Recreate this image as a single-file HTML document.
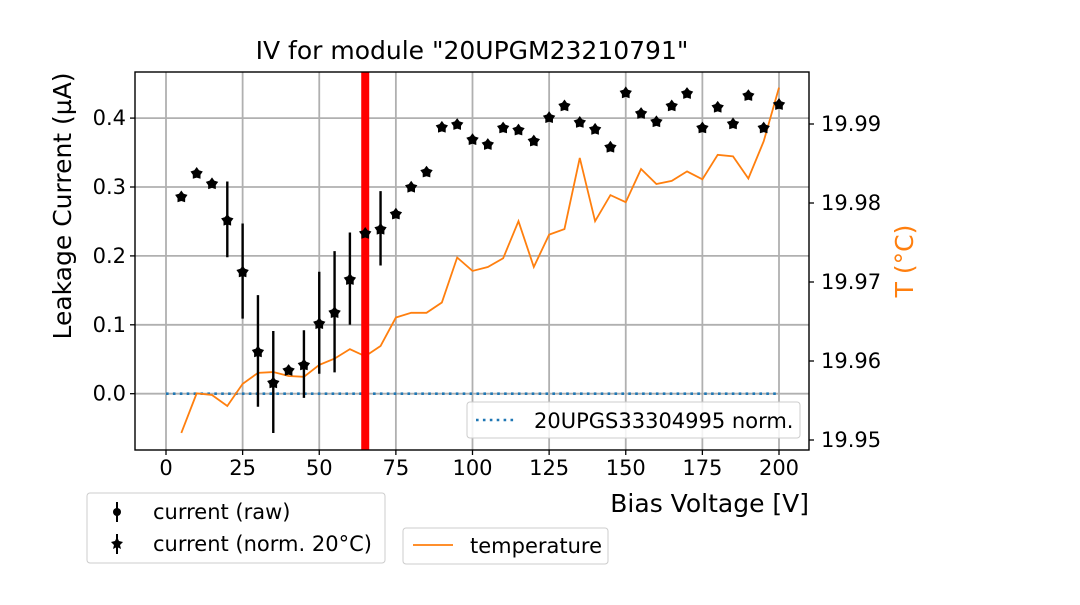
<!DOCTYPE html>
<html><head><meta charset="utf-8"><style>
body{margin:0;background:#fff}
text{font-family:"DejaVu Sans","Liberation Sans",sans-serif;fill:#000}
</style></head><body>
<svg id="chart" width="1080" height="600" viewBox="0 0 1080 600" xmlns="http://www.w3.org/2000/svg">
<g id="grid"></g>
<g id="marks"></g>
<g id="axes"></g>
</svg>
<script>
const voltages=[5,10,15,20,25,30,35,40,45,50,55,60,65,70,75,80,85,90,95,100,105,110,115,120,125,130,135,140,145,150,155,160,165,170,175,180,185,190,195,200];
const currentNorm=[0.287,0.321,0.306,0.253,0.178,0.062,0.017,0.035,0.043,0.103,0.119,0.167,0.234,0.240,0.262,0.301,0.323,0.388,0.392,0.370,0.363,0.387,0.384,0.368,0.402,0.419,0.395,0.385,0.359,0.438,0.408,0.396,0.419,0.437,0.387,0.417,0.393,0.434,0.387,0.421];
const currentErr=[0,0,0,0.055,0.069,0.081,0.074,0,0.049,0.074,0.088,0.067,0,0.054,0,0,0,0,0,0,0,0,0,0,0,0,0,0,0,0,0,0,0,0,0,0,0,0,0,0];
const temperature=[19.9509,19.9559,19.9557,19.9543,19.9571,19.9585,19.9586,19.9581,19.9580,19.9595,19.9603,19.9615,19.9606,19.9619,19.9655,19.9661,19.9661,19.9674,19.9731,19.9714,19.9719,19.9730,19.9777,19.9719,19.9760,19.9767,19.9857,19.9777,19.9810,19.9801,19.9843,19.9824,19.9828,19.9840,19.9830,19.9861,19.9859,19.9831,19.9878,19.9946];
const refVoltages=[0,200];
const refValues=[0,0];
const breakdownVoltage=65;
const xTicks=[0,25,50,75,100,125,150,175,200];
const yTicks=[0.0,0.1,0.2,0.3,0.4];
const yTickLabels=["0.0","0.1","0.2","0.3","0.4"];
const tTicks=[19.95,19.96,19.97,19.98,19.99];

const L=135,R=809,T=72,B=450;
const xs=v=>166+v*(779-166)/200;
const ys=v=>393.7-v*689;
const ts=v=>440-(v-19.95)*7900;
const NS="http://www.w3.org/2000/svg";
function mk(parent,tag,attrs){const e=document.createElementNS(NS,tag);for(const k in attrs)e.setAttribute(k,attrs[k]);parent.appendChild(e);return e;}
const grid=document.getElementById('grid'),marks=document.getElementById('marks'),axes=document.getElementById('axes');

xTicks.forEach(v=>{const l=mk(grid,'line',{x1:xs(v),x2:xs(v),y1:T,y2:B,stroke:'#b0b0b0','stroke-width':1.8});

});
yTicks.forEach(v=>{const l=mk(grid,'line',{x1:L,x2:R,y1:ys(v),y2:ys(v),stroke:'#b0b0b0','stroke-width':1.8});

});

const ref=mk(marks,'line',{x1:xs(refVoltages[0]),x2:xs(refVoltages[1]),y1:ys(refValues[0]),y2:ys(refValues[1]),stroke:'#1f77b4','stroke-width':2.6,'stroke-dasharray':'2.6,4.3'});



const tp=mk(marks,'polyline',{points:voltages.map((v,i)=>xs(v)+','+ts(temperature[i])).join(' '),fill:'none',stroke:'#ff7f0e','stroke-width':1.8});



const rl=mk(marks,'line',{x1:xs(breakdownVoltage),x2:xs(breakdownVoltage),y1:T,y2:B,stroke:'#ff0000','stroke-width':8});



function star(cx,cy,r){let p=[];for(let k=0;k<10;k++){const a=-Math.PI/2+k*Math.PI/5;const rr=k%2?r*0.62:r;p.push((cx+rr*Math.cos(a)).toFixed(1)+','+(cy+rr*Math.sin(a)).toFixed(1));}return p.join(' ');}
voltages.forEach((v,i)=>{
 if(currentErr[i]>0){const e=mk(marks,'line',{x1:xs(v),x2:xs(v),y1:ys(currentNorm[i]+currentErr[i]),y2:ys(currentNorm[i]-currentErr[i]),stroke:'#000','stroke-width':2.4});
 
 }
 const s=mk(marks,'polygon',{points:star(xs(v),ys(currentNorm[i])+1,6.5),fill:'#000'});
 
 
});

mk(axes,'rect',{x:L,y:T,width:R-L,height:B-T,fill:'none',stroke:'#000','stroke-width':1.4});
xTicks.forEach(v=>{mk(axes,'line',{x1:xs(v),x2:xs(v),y1:B,y2:B+5,stroke:'#000','stroke-width':1.3});
const t=mk(axes,'text',{x:xs(v),y:B+25,'text-anchor':'middle','font-size':21});t.textContent=v;

});
yTicks.forEach((v,i)=>{mk(axes,'line',{x1:L-5,x2:L,y1:ys(v),y2:ys(v),stroke:'#000','stroke-width':1.3});
const t=mk(axes,'text',{x:L-9,y:ys(v)+7,'text-anchor':'end','font-size':21});t.textContent=yTickLabels[i];

});
tTicks.forEach(v=>{mk(axes,'line',{x1:R,x2:R+5,y1:ts(v),y2:ts(v),stroke:'#000','stroke-width':1.3});
const t=mk(axes,'text',{x:R+12,y:ts(v)+7,'font-size':21});t.textContent=v.toFixed(2);

});
</script>
<svg style="position:absolute;left:0;top:0" width="1080" height="600">
<text x="472" y="59" text-anchor="middle" font-size="25">IV for module "20UPGM23210791"</text>
<text x="809" y="512" text-anchor="end" font-size="25">Bias Voltage [V]</text>
<text transform="translate(71,206) rotate(-90)" text-anchor="middle" font-size="25">Leakage Current (µA)</text>
<text transform="translate(913,261) rotate(-90)" text-anchor="middle" font-size="25" style="fill:#ff7f0e">T (°C)</text>
<g>
<rect x="467" y="402" width="333" height="36" rx="3" fill="#fff" fill-opacity="0.85" stroke="#ccc"/>
<line x1="476" x2="516" y1="420" y2="420" stroke="#1f77b4" stroke-width="2.6" stroke-dasharray="2.6,4.3"/>
<text x="534" y="428" font-size="21">20UPGS33304995 norm.</text>
</g>
<g>
<rect x="87" y="493" width="298" height="70" rx="3" fill="#fff" stroke="#ccc"/>
<line x1="117" x2="117" y1="502" y2="522" stroke="#000" stroke-width="2"/><circle cx="117" cy="512" r="4" fill="#000"/>
<text x="153" y="519" font-size="21">current (raw)</text>
<line x1="117" x2="117" y1="534" y2="554" stroke="#000" stroke-width="2"/><polygon points="117,537 119,541 123,542 120,545 121,549 117,547 113,549 114,545 111,542 115,541" fill="#000"/>
<text x="153" y="551" font-size="21">current (norm. 20°C)</text>
</g>
<g>
<rect x="403" y="528" width="205" height="36" rx="3" fill="#fff" stroke="#ccc"/>
<line x1="413" x2="453" y1="545" y2="545" stroke="#ff7f0e" stroke-width="1.8"/>
<text x="470" y="553" font-size="21">temperature</text>
</g>
</svg>
</body></html>
